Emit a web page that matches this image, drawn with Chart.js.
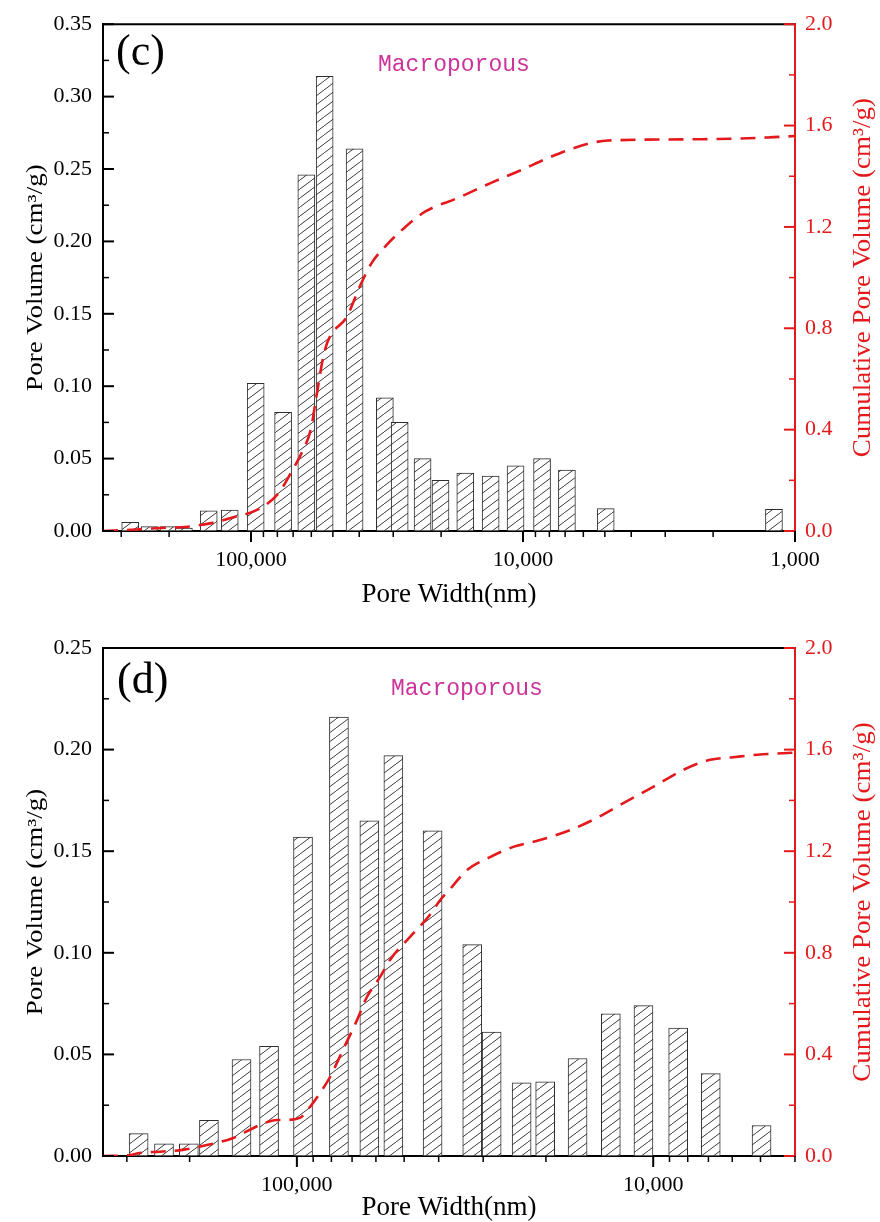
<!DOCTYPE html>
<html>
<head>
<meta charset="utf-8">
<script src="https://cdn.jsdelivr.net/npm/chart.js@4.4.1/dist/chart.umd.min.js"></script>
<style>
html,body{margin:0;padding:0;background:#fff;}
.wrap{position:absolute;left:0;width:880px;height:611px;}
canvas{display:block;}
</style>
</head>
<body>
<div class="wrap" style="top:0px"><canvas id="chartC" width="880" height="611"></canvas></div>
<div class="wrap" style="top:611px"><canvas id="chartD" width="880" height="611"></canvas></div>
<script>
// ---------- Panel (c) data ----------
const poreWidthC = [278000, 236000, 201000, 176500, 143000, 119700, 96100, 76200, 62600, 53600, 41600, 32200, 28400, 23400, 20100, 16300, 13150, 10650, 8510, 6895, 4965, 1195];
const poreVolumeC = [0.006, 0.003, 0.003, 0.002, 0.014, 0.0145, 0.102, 0.082, 0.246, 0.314, 0.264, 0.092, 0.075, 0.050, 0.035, 0.040, 0.038, 0.045, 0.050, 0.042, 0.0155, 0.015];
const cumWidthC = [350000, 264800, 214000, 174900, 141600, 113500, 94200, 79400, 70100, 64940, 60160, 57900, 53480, 44200, 39540, 36030, 31640, 27380, 22910, 17300, 13100, 9920, 8090, 5770, 4870, 2220, 1256, 1000];
const cumVolumeC = [0, 0.006, 0.012, 0.016, 0.03, 0.057, 0.085, 0.148, 0.244, 0.311, 0.404, 0.51, 0.715, 0.85, 0.972, 1.057, 1.13, 1.195, 1.26, 1.315, 1.374, 1.429, 1.472, 1.528, 1.541, 1.546, 1.553, 1.559];

// ---------- Panel (d) data ----------
const poreWidthD = [278000, 236000, 201000, 176500, 143000, 119700, 96100, 76200, 62600, 53600, 41600, 32200, 28400, 23400, 20100, 16300, 13150, 10650, 8510, 6895, 4965];
const poreVolumeD = [0.011, 0.006, 0.006, 0.0175, 0.0475, 0.054, 0.157, 0.216, 0.165, 0.197, 0.160, 0.104, 0.061, 0.036, 0.0365, 0.048, 0.070, 0.074, 0.063, 0.0405, 0.015];
const cumWidthD = [350000, 294000, 276000, 242600, 209000, 179000, 151400, 127000, 113800, 106700, 98100, 91900, 86100, 80700, 74300, 67800, 63600, 58400, 54800, 48200, 42300, 39600, 36700, 33300, 28700, 24700, 20800, 17100, 14400, 12400, 10000, 8240, 6920, 5960, 5100, 4000];
const cumVolumeD = [0, 0.004, 0.012, 0.017, 0.024, 0.043, 0.07, 0.122, 0.142, 0.142, 0.15, 0.193, 0.248, 0.311, 0.417, 0.535, 0.626, 0.705, 0.772, 0.862, 0.95, 1.008, 1.06, 1.126, 1.177, 1.217, 1.244, 1.283, 1.331, 1.382, 1.453, 1.52, 1.56, 1.57, 1.58, 1.588];

// ---------- Text ----------
const xTitle = 'Pore Width(nm)';
const leftTitle = 'Pore Volume (cm³/g)';
const rightTitle = 'Cumulative Pore Volume (cm³/g)';
const noteText = 'Macroporous';

const RED = '#e3191c';
const SERIF = '"Liberation Serif", "Times New Roman", serif';

function makeHatch() {
  const w = 12, h = 9;
  const c = document.createElement('canvas');
  c.width = w; c.height = h;
  const g = c.getContext('2d');
  g.fillStyle = '#ffffff';
  g.fillRect(0, 0, w, h);
  g.strokeStyle = '#3c3c3c';
  g.lineWidth = 1;
  g.beginPath();
  for (let k = -1; k <= 1; k++) { g.moveTo(k * w, h); g.lineTo(k * w + w, 0); }
  g.stroke();
  return g.createPattern(c, 'repeat');
}

function rotText(ctx, text, x, y, f, color, font) {
  ctx.save();
  ctx.translate(x, y);
  ctx.scale(f, 1);
  ctx.rotate(-Math.PI / 2);
  ctx.font = font;
  ctx.fillStyle = color;
  ctx.textAlign = 'center';
  ctx.textBaseline = 'alphabetic';
  ctx.fillText(text, 0, 0);
  ctx.restore();
}

const decorPlugin = {
  id: 'decor',
  afterDraw(chart, args, o) {
    const ctx = chart.ctx, a = chart.chartArea;
    const sx = chart.scales.x, sy = chart.scales.y, sy2 = chart.scales.y2;
    const seg = (x1, y1, x2, y2) => { ctx.beginPath(); ctx.moveTo(x1, y1); ctx.lineTo(x2, y2); ctx.stroke(); };
    ctx.save();
    // top frame line
    ctx.strokeStyle = '#000'; ctx.lineWidth = 2;
    seg(a.left, a.top, a.right, a.top);
    // left ticks (inward)
    for (let i = 0; ; i++) {
      const v = i * o.yStep / 2;
      if (v > o.yMax + 1e-9) break;
      const p = sy.getPixelForValue(v);
      ctx.lineWidth = i % 2 === 0 ? 2 : 1.5;
      seg(a.left, p, a.left + (i % 2 === 0 ? 11 : 6), p);
    }
    // right ticks (inward, red)
    ctx.strokeStyle = RED;
    for (let i = 0; ; i++) {
      const v = i * 0.2;
      if (v > 2 + 1e-9) break;
      const p = sy2.getPixelForValue(v);
      ctx.lineWidth = i % 2 === 0 ? 2 : 1.5;
      seg(a.right - (i % 2 === 0 ? 11 : 6), p, a.right, p);
    }
    // bottom ticks (outward)
    ctx.strokeStyle = '#000';
    for (let e = 3; e <= 5; e++) {
      for (let k = 1; k <= 9; k++) {
        const v = k * Math.pow(10, e);
        if (v < sx.min - 1e-6 || v > sx.max + 1e-6) continue;
        const p = sx.getPixelForValue(v);
        ctx.lineWidth = k === 1 ? 2 : 1.5;
        seg(p, a.bottom, p, a.bottom + (k === 1 ? 11 : 6));
      }
    }
    // texts
    ctx.fillStyle = '#000';
    ctx.font = '44px ' + SERIF;
    ctx.textAlign = 'left'; ctx.textBaseline = 'alphabetic';
    ctx.fillText(o.label, o.labelX, o.labelY);
    ctx.fillStyle = '#cc3399';
    ctx.font = '23px "Liberation Mono", "DejaVu Sans Mono", monospace';
    ctx.fillText(noteText, o.noteX, o.noteY);
    ctx.fillStyle = '#000';
    ctx.font = '27px ' + SERIF;
    ctx.textAlign = 'center';
    ctx.fillText(xTitle, (a.left + a.right) / 2, o.xTitleY);
    const cy = (a.top + a.bottom) / 2;
    rotText(ctx, leftTitle, 42, cy, 0.82, '#000', '27px ' + SERIF);
    rotText(ctx, rightTitle, 870, cy, 0.95, RED, '27px ' + SERIF);
    ctx.restore();
  }
};

function isPow10(v) {
  const l = Math.log10(v);
  return Math.abs(l - Math.round(l)) < 1e-9;
}

function buildChart(id, widths, vols, cw, cv, opt) {
  const hatch = makeHatch();
  return new Chart(document.getElementById(id), {
    type: 'bar',
    data: {
      datasets: [
        {
          type: 'line',
          data: cw.map((x, i) => ({ x: x, y: cv[i] })),
          xAxisID: 'x', yAxisID: 'y2',
          borderColor: RED, borderWidth: 2.6, borderDash: [15, 9],
          pointRadius: 0, fill: false, cubicInterpolationMode: 'monotone',
          order: 1
        },
        {
          type: 'bar',
          data: widths.map((x, i) => ({ x: x, y: vols[i] })),
          xAxisID: 'x', yAxisID: 'y',
          backgroundColor: hatch, borderColor: '#2e2e2e', borderWidth: 1,
          barThickness: opt.barW, borderSkipped: false,
          order: 2
        }
      ]
    },
    options: {
      responsive: false, animation: false, devicePixelRatio: 1,
      layout: { padding: { top: opt.padTop, left: 0, right: 0, bottom: 0 } },
      plugins: { legend: { display: false }, tooltip: { enabled: false }, decor: opt.decor },
      scales: {
        x: {
          type: 'logarithmic', position: 'bottom', reverse: true, offset: false,
          min: opt.xMin, max: 350000,
          grid: { display: false, drawTicks: false },
          border: { display: true, color: '#000', width: 2 },
          ticks: {
            autoSkip: false, maxRotation: 0, minRotation: 0, padding: 16,
            color: '#000', font: { family: SERIF, size: 22 },
            callback: (v) => isPow10(v) ? Number(v).toLocaleString('en-US') : ''
          },
          afterFit: (s) => { s.height = opt.xH; }
        },
        y: {
          type: 'linear', position: 'left', min: 0, max: opt.yMax,
          grid: { display: false, drawTicks: false },
          border: { display: true, color: '#000', width: 2 },
          ticks: { stepSize: opt.yStep, padding: 11, color: '#000', font: { family: SERIF, size: 22 },
                   callback: (v) => Number(v).toFixed(2) },
          afterFit: (s) => { s.width = 103; }
        },
        y2: {
          type: 'linear', position: 'right', min: 0, max: 2.0,
          grid: { display: false, drawTicks: false },
          border: { display: true, color: RED, width: 2 },
          ticks: { stepSize: 0.4, padding: 10, color: RED, font: { family: SERIF, size: 22 },
                   callback: (v) => Number(v).toFixed(1) },
          afterFit: (s) => { s.width = 85; }
        }
      }
    },
    plugins: [decorPlugin]
  });
}

buildChart('chartC', poreWidthC, poreVolumeC, cumWidthC, cumVolumeC, {
  barW: 17, padTop: 23, xH: 80, xMin: 1000, yMax: 0.35, yStep: 0.05,
  decor: { yMax: 0.35, yStep: 0.05, label: '(c)', labelX: 116, labelY: 65, noteX: 378, noteY: 71, xTitleY: 602 }
});
buildChart('chartD', poreWidthD, poreVolumeD, cumWidthD, cumVolumeD, {
  barW: 19, padTop: 37, xH: 66, xMin: 4000, yMax: 0.25, yStep: 0.05,
  decor: { yMax: 0.25, yStep: 0.05, label: '(d)', labelX: 117, labelY: 82, noteX: 391, noteY: 84, xTitleY: 604 }
});
</script>
</body>
</html>
